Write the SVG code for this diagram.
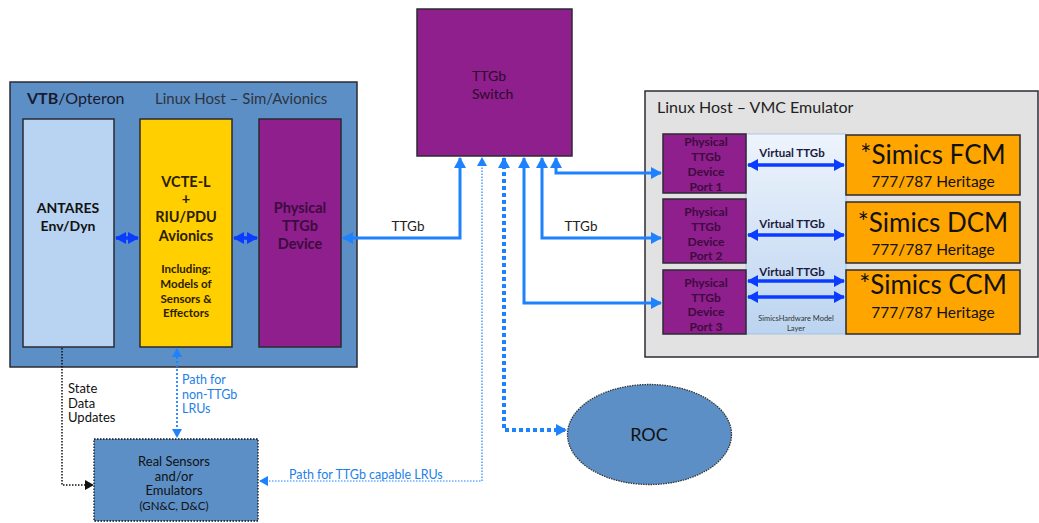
<svg xmlns="http://www.w3.org/2000/svg" width="1039" height="523" viewBox="0 0 1039 523">
<defs>
<linearGradient id="layerGrad" x1="0" y1="0" x2="0" y2="1">
<stop offset="0" stop-color="#eef4fc"/>
<stop offset="1" stop-color="#bcd4f0"/>
</linearGradient>
<marker id="hDark" markerUnits="userSpaceOnUse" markerWidth="11" markerHeight="12" refX="10" refY="6" orient="auto-start-reverse" viewBox="0 0 11 12">
<path d="M0,0 L11,6 L0,12 z" fill="#0a3cff"/>
</marker>
<marker id="hLight" markerUnits="userSpaceOnUse" markerWidth="11" markerHeight="12" refX="10" refY="6" orient="auto-start-reverse" viewBox="0 0 11 12">
<path d="M0,0 L11,6 L0,12 z" fill="#1e82ff"/>
</marker>
<marker id="hLightS" markerUnits="userSpaceOnUse" markerWidth="9" markerHeight="10" refX="8" refY="5" orient="auto-start-reverse" viewBox="0 0 9 10">
<path d="M0,0 L9,5 L0,10 z" fill="#1e82ff"/>
</marker>
<marker id="hBlack" markerUnits="userSpaceOnUse" markerWidth="9" markerHeight="10" refX="8" refY="5" orient="auto-start-reverse" viewBox="0 0 9 10">
<path d="M0,0 L9,5 L0,10 z" fill="#111"/>
</marker>
</defs>
<style>
text { font-family: Lato, "Liberation Sans", sans-serif; }
.box { stroke: #2b2b33; stroke-width: 1.5; }
.blue { fill: #5b8fc6; }
.purple { fill: #8e1f8c; }
.orange { fill: #ffa500; }
.ptxt { fill: #3d0b40; font-weight: bold; text-anchor: middle; }
.dtxt { fill: #111; text-anchor: middle; }
.dark { stroke: #0a3cff; stroke-width: 3.5; fill: none; marker-start: url(#hDark); marker-end: url(#hDark); }
.light { stroke: #1e82ff; stroke-width: 3; fill: none; }
.btxt { fill: #1e7fe8; }
</style>

<g id="vtb">
<rect x="10" y="82" width="347" height="285" class="box blue"/>
<text x="27" y="104" font-size="16" fill="#1a1a2e"><tspan font-weight="bold">VTB</tspan>/Opteron</text>
<text x="155" y="104" font-size="15" fill="#2e3440">Linux Host – Sim/Avionics</text>
</g>

<g id="antares">
<rect x="23" y="119" width="91" height="228" class="box" fill="#b8d4f2"/>
<text x="68" y="213" font-size="14" font-weight="bold" class="dtxt">ANTARES</text>
<text x="68" y="231" font-size="14" font-weight="bold" class="dtxt">Env/Dyn</text>
</g>

<g id="vcte">
<rect x="140" y="119" width="92" height="228" class="box" fill="#ffcf00"/>
<g font-weight="bold" font-size="14.5" fill="#2a2000" text-anchor="middle">
<text x="186" y="187">VCTE-L</text>
<text x="186" y="204">+</text>
<text x="186" y="222">RIU/PDU</text>
<text x="186" y="241">Avionics</text>
</g>
<g font-weight="bold" font-size="11.5" fill="#2a2000" text-anchor="middle">
<text x="186" y="273">Including:</text>
<text x="186" y="288">Models of</text>
<text x="186" y="303">Sensors &amp;</text>
<text x="186" y="317">Effectors</text>
</g>
</g>

<g id="ptd">
<rect x="259" y="119" width="82" height="228" class="box purple"/>
<text x="300" y="213" font-size="14.5" class="ptxt">Physical</text>
<text x="300" y="231" font-size="14.5" class="ptxt">TTGb</text>
<text x="300" y="249" font-size="14.5" class="ptxt">Device</text>
</g>

<g id="switch">
<rect x="417" y="9" width="155" height="147" class="box purple"/>
<text x="472" y="81" font-size="14" fill="#2a0a2a">TTGb</text>
<text x="472" y="99" font-size="14" fill="#2a0a2a">Switch</text>
</g>

<g id="vmc">
<rect x="645" y="91" width="393" height="266" class="box" fill="#e2e2e2"/>
<text x="657" y="113" font-size="16" fill="#222">Linux Host – VMC Emulator</text>
</g>

<g id="layer">
<rect x="746" y="134" width="100" height="200" fill="url(#layerGrad)" stroke="#9fbde0" stroke-width="0.8"/>
<text x="796" y="321" font-size="7.5" fill="#333" text-anchor="middle">SimicsHardware Model</text>
<text x="796" y="331" font-size="7.5" fill="#333" text-anchor="middle">Layer</text>
</g>

<g id="port1">
<rect x="663" y="134" width="83" height="59" class="box purple"/>
<g font-size="12" class="ptxt">
<text x="706" y="146">Physical</text>
<text x="706" y="161">TTGb</text>
<text x="706" y="176">Device</text>
<text x="706" y="191">Port 1</text>
</g>
</g>
<g id="port2">
<rect x="663" y="199" width="83" height="64" class="box purple"/>
<g font-size="12" class="ptxt">
<text x="706" y="216">Physical</text>
<text x="706" y="231">TTGb</text>
<text x="706" y="246">Device</text>
<text x="706" y="260">Port 2</text>
</g>
</g>
<g id="port3">
<rect x="663" y="270" width="83" height="64" class="box purple"/>
<g font-size="12" class="ptxt">
<text x="706" y="287">Physical</text>
<text x="706" y="302">TTGb</text>
<text x="706" y="316">Device</text>
<text x="706" y="331">Port 3</text>
</g>
</g>

<g id="fcm">
<rect x="846" y="135" width="174" height="60" class="box orange"/>
<text x="933" y="164" font-size="26" class="dtxt" fill="#1a1200">*Simics FCM</text>
<text x="933" y="187" font-size="15.5" class="dtxt" fill="#4a3200">777/787 Heritage</text>
</g>
<g id="dcm">
<rect x="846" y="202" width="174" height="61" class="box orange"/>
<text x="933" y="232" font-size="26" class="dtxt" fill="#1a1200">*Simics DCM</text>
<text x="933" y="255" font-size="15.5" class="dtxt" fill="#4a3200">777/787 Heritage</text>
</g>
<g id="ccm">
<rect x="846" y="270" width="174" height="64" class="box orange"/>
<text x="933" y="294" font-size="26" class="dtxt" fill="#1a1200">*Simics CCM</text>
<text x="933" y="318" font-size="15.5" class="dtxt" fill="#4a3200">777/787 Heritage</text>
</g>

<g id="sensors">
<rect x="94" y="439" width="164" height="82" fill="#5b8fc6" stroke="#111" stroke-width="1.3" stroke-dasharray="1.5 1.5"/>
<g font-size="13" class="dtxt" fill="#14142a">
<text x="174" y="466">Real Sensors</text>
<text x="174" y="481">and/or</text>
<text x="174" y="495">Emulators</text>
<text x="174" y="510" font-size="11.5">(GN&amp;C, D&amp;C)</text>
</g>
</g>

<g id="roc">
<ellipse cx="649.5" cy="434.5" rx="82" ry="50" fill="#5b8fc6" stroke="#333" stroke-width="1.3" stroke-dasharray="1.5 1"/>
<text x="649" y="441" font-size="18" class="dtxt" fill="#14142a">ROC</text>
</g>

<g id="connectors">
<line x1="116" y1="238" x2="138" y2="238" class="dark"/>
<line x1="234" y1="238" x2="257" y2="238" class="dark"/>
<path d="M343,238 H460 V158" class="light" marker-start="url(#hLight)" marker-end="url(#hLight)"/>
<path d="M260,481 H482 V158" stroke="#1e82ff" stroke-width="1.2" stroke-dasharray="1.5 1.5" fill="none" marker-start="url(#hLightS)" marker-end="url(#hLightS)"/>
<path d="M504,158 V430 H566" stroke="#1e82ff" stroke-width="4" stroke-dasharray="4 3" fill="none" marker-start="url(#hLight)" marker-end="url(#hLight)"/>
<path d="M524,158 V303 H661" class="light" marker-start="url(#hLight)" marker-end="url(#hLight)"/>
<path d="M542,158 V238 H661" class="light" marker-start="url(#hLight)" marker-end="url(#hLight)"/>
<path d="M556,158 V173 H661" class="light" marker-start="url(#hLight)" marker-end="url(#hLight)"/>
<line x1="748" y1="165" x2="844" y2="165" class="dark"/>
<line x1="748" y1="235" x2="844" y2="235" class="dark"/>
<line x1="748" y1="281" x2="844" y2="281" class="dark"/>
<line x1="748" y1="297" x2="844" y2="297" class="dark"/>
<path d="M62,348 V485 H93" stroke="#111" stroke-width="1.5" stroke-dasharray="1.5 1.5" fill="none" marker-end="url(#hBlack)"/>
<path d="M177,349 V437" stroke="#1e82ff" stroke-width="1.8" stroke-dasharray="2 2" fill="none" marker-start="url(#hLightS)" marker-end="url(#hLightS)"/>
<text x="408" y="231" font-size="13.5" fill="#222" text-anchor="middle">TTGb</text>
<text x="581" y="231" font-size="13.5" fill="#222" text-anchor="middle">TTGb</text>
<g font-size="11.5" font-weight="bold" fill="#1a1a40" text-anchor="middle">
<text x="792" y="157">Virtual TTGb</text>
<text x="792" y="228">Virtual TTGb</text>
<text x="792" y="276">Virtual TTGb</text>
</g>
<g font-size="13" fill="#111">
<text x="68" y="393">State</text>
<text x="68" y="408">Data</text>
<text x="68" y="422">Updates</text>
</g>
<g font-size="12.5" class="btxt">
<text x="182" y="384">Path for</text>
<text x="182" y="399">non-TTGb</text>
<text x="182" y="413">LRUs</text>
<text x="289" y="479">Path for TTGb capable LRUs</text>
</g>
</g>
</svg>
